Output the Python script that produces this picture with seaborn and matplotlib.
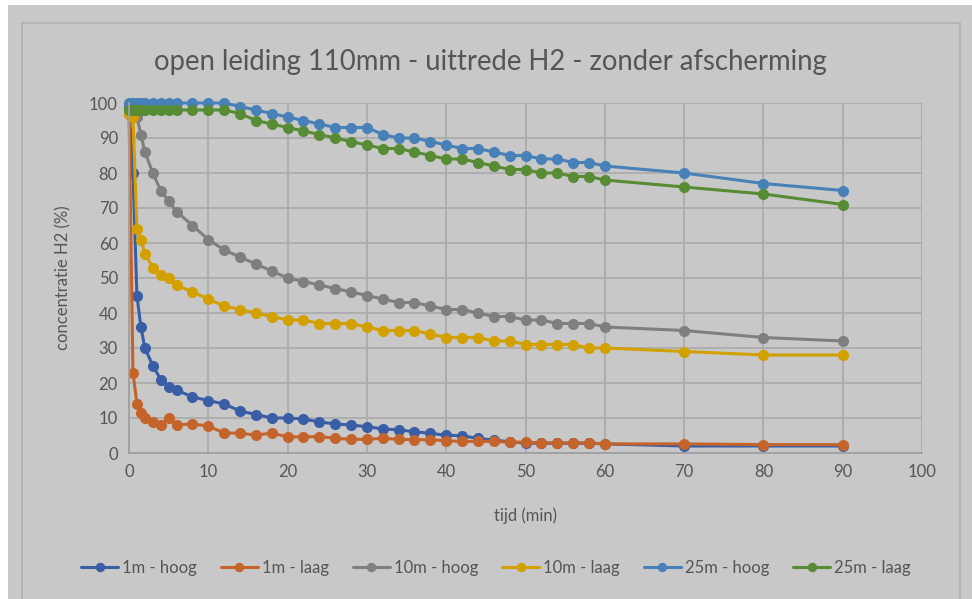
import matplotlib
matplotlib.use("Agg")
import matplotlib.pyplot as plt
from matplotlib.patches import Rectangle
import pandas as pd
import seaborn as sns

# Time stamps (minutes)
tijd = [0, 0.5, 1, 1.5, 2, 3, 4, 5, 6, 8, 10, 12, 14, 16, 18, 20, 22, 24, 26, 28,
        30, 32, 34, 36, 38, 40, 42, 44, 46, 48, 50, 52, 54, 56, 58, 60, 70, 80, 90]

# H2 concentration (%) per measurement point
hoog_1m = [99, 80, 45, 36, 30, 25, 21, 19, 18, 16, 15, 14, 12, 11, 10, 10, 9.7, 8.9, 8.3, 8,
           7.5, 6.9, 6.6, 6.1, 5.6, 5.1, 4.9, 4.2, 3.7, 3.2, 2.8, 2.8, 2.8, 2.8, 2.8, 2.6, 2, 2, 2]
laag_1m = [97, 23, 14, 11.5, 10, 9, 8, 10, 8, 8.3, 7.7, 5.7, 5.7, 5.1, 5.7, 4.6, 4.6, 4.7, 4.2, 3.9,
           3.9, 4.2, 3.9, 3.8, 3.8, 3.5, 3.3, 3.3, 3.3, 3.1, 3.1, 2.9, 2.9, 2.9, 2.9, 2.6, 2.6, 2.4, 2.4]
hoog_10m = [98, 98, 96, 91, 86, 80, 75, 72, 69, 65, 61, 58, 56, 54, 52, 50, 49, 48, 47, 46,
            45, 44, 43, 43, 42, 41, 41, 40, 39, 39, 38, 38, 37, 37, 37, 36, 35, 33, 32]
laag_10m = [97, 96, 64, 61, 57, 53, 51, 50, 48, 46, 44, 42, 41, 40, 39, 38, 38, 37, 37, 37,
            36, 35, 35, 35, 34, 33, 33, 33, 32, 32, 31, 31, 31, 31, 30, 30, 29, 28, 28]
hoog_25m = [100, 100, 100, 100, 100, 100, 100, 100, 100, 100, 100, 100, 99, 98, 97, 96, 95, 94, 93, 93,
            93, 91, 90, 90, 89, 88, 87, 87, 86, 85, 85, 84, 84, 83, 83, 82, 80, 77, 75]
laag_25m = [98, 98, 98, 98, 98, 98, 98, 98, 98, 98, 98, 98, 97, 95, 94, 93, 92, 91, 90, 89,
            88, 87, 87, 86, 85, 84, 84, 83, 82, 81, 81, 80, 80, 79, 79, 78, 76, 74, 71]

series_names = ["1m - hoog", "1m - laag", "10m - hoog", "10m - laag", "25m - hoog", "25m - laag"]
series_values = [hoog_1m, laag_1m, hoog_10m, laag_10m, hoog_25m, laag_25m]
series_colors = ["#3a5ea6", "#c4642b", "#7f7f7f", "#d2a000", "#4781b8", "#578c35"]

df = pd.concat(
    [pd.DataFrame({"tijd": tijd, "concentratie": vals, "meetpunt": name})
     for name, vals in zip(series_names, series_values)],
    ignore_index=True,
)

sns.set_theme(style="white")
plt.rcParams["font.family"] = ["Lato", "DejaVu Sans"]

BG = "#c8c8c8"
TXT = "#555555"
GRID = "#acacac"

fig = plt.figure(figsize=(9.72, 5.99), dpi=100, facecolor="white")
W, H = 972, 599
# grey chart area with a thin white margin at the top and left
fig.patches.append(Rectangle((8 / W, 0), 1, 1 - 5 / H, transform=fig.transFigure,
                             facecolor=BG, edgecolor="none", zorder=-10))
fig.patches.append(Rectangle((22 / W, -0.01), (960 - 22) / W, 1.01 - 23 / H,
                             transform=fig.transFigure, facecolor="none",
                             edgecolor="#b0b0b0", linewidth=1.2, zorder=-9))

ax = fig.add_axes([129 / W, 1 - 453 / H, (922 - 129) / W, (453 - 103) / H])
ax.set_facecolor(BG)

for name, col in zip(series_names, series_colors):
    sns.lineplot(data=df[df["meetpunt"] == name], x="tijd", y="concentratie",
                 ax=ax, color=col, label=name, marker="o", markersize=8,
                 markeredgewidth=0, linewidth=2.2, sort=False, estimator=None,
                 clip_on=False)

ax.set_xlim(0, 100)
ax.set_ylim(0, 100)
ax.set_xticks(range(0, 101, 10))
ax.set_yticks(range(0, 101, 10))
ax.grid(True, color=GRID, linewidth=1.3)
ax.set_axisbelow(True)
for side in ["top", "right"]:
    ax.spines[side].set_visible(False)
for side in ["left", "bottom"]:
    ax.spines[side].set_color("#a0a0a0")
    ax.spines[side].set_linewidth(1.3)
ax.tick_params(axis="both", length=0, labelsize=12, labelcolor=TXT, pad=8)

ax.set_xlabel("tijd (min)", fontsize=12, color=TXT, labelpad=20)
ax.set_ylabel("concentratie H2 (%)", fontsize=12, color=TXT, labelpad=13)

fig.text((129 + 922) / 2 / W - 0.036, 1 - 62 / H,
         "open leiding 110mm - uittrede H2 - zonder afscherming",
         ha="center", va="center", fontsize=19.8, color=TXT)

ax.legend(loc="center", bbox_to_anchor=(496 / W, 1 - 568 / H), bbox_transform=fig.transFigure,
          ncol=6, frameon=False, fontsize=12, labelcolor=TXT, handlelength=2.2,
          columnspacing=1.45, handletextpad=0.25, markerscale=0.85)

fig.savefig("out.png", dpi=100, facecolor=fig.get_facecolor())
